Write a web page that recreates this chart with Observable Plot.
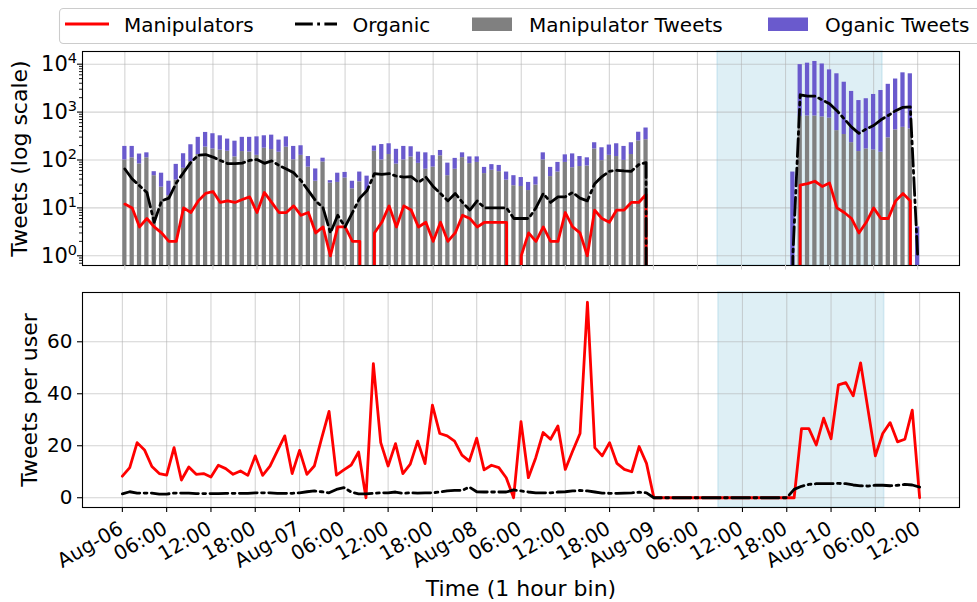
<!DOCTYPE html>
<html><head><meta charset="utf-8">
<script src="https://cdn.jsdelivr.net/npm/d3@7"></script>
<script src="https://cdn.jsdelivr.net/npm/@observablehq/plot@0.6"></script>
<style>
body{margin:0;background:#fff;font-family:"DejaVu Sans",sans-serif;}
#wrap{position:relative;width:977px;height:602px;overflow:hidden;background:#fff;}
.panel{position:absolute;left:0;}
#legend{position:absolute;left:0;top:0;}
</style></head>
<body><div id="wrap">
<div id="top" class="panel" style="top:0px"></div>
<div id="bottom" class="panel" style="top:280px"></div>
<svg id="legend" width="977" height="50" font-family="DejaVu Sans" font-size="20">
  <rect x="59.5" y="8.5" width="940" height="35" rx="4" fill="white" fill-opacity="0.8" stroke="#cccccc" stroke-width="1.1"></rect>
  <line x1="65" x2="109" y1="24" y2="24" stroke="red" stroke-width="2.8"></line>
  <text x="124" y="31.5">Manipulators</text>
  <line x1="295" x2="337" y1="24" y2="24" stroke="black" stroke-width="2.8" stroke-dasharray="17.8,4.4,2.8,4.4"></line>
  <text x="352.5" y="31.5">Organic</text>
  <rect x="472" y="17.5" width="40" height="13.5" fill="#808080"></rect>
  <text x="529" y="31.5">Manipulator Tweets</text>
  <rect x="768" y="17.5" width="40" height="13.5" fill="#6a5acd"></rect>
  <text x="825" y="31.5">Oganic Tweets</text>
</svg>
</div>
<script>
// hourly bins starting Aug-06 00:00 (index = hours since start)
const hours = d3.range(0, 109);
const tickHours = d3.range(0, 109, 6);
const tickLabels = ["Aug-06","06:00","12:00","18:00","Aug-07","06:00","12:00","18:00",
  "Aug-08","06:00","12:00","18:00","Aug-09","06:00","12:00","18:00","Aug-10","06:00","12:00"];
const logTicks = [1, 10, 100, 1000, 10000];
const perUserTicks = [0, 20, 40, 60];
const highlight = [{start: 80.75, end: 103.2}];

// number of manipulator users per hour (top, red)
const manipUsers = [
  12,10,4,6,4,3,2,2,10,8,
  14,20,22,13,14,13,15,17,8,21,
  13,8,8,11,7,8,3,4,1,4,
  4,2,2,0,3,5,11,4,11,9,
  4,5,2,5,2,3,7,6,4,5,
  5,5,5,0,1,3,2,4,2,2,
  8,4,3,1,9,6,5,9,9,13,
  13,19,0,0,0,0,0,0,0,0,
  0,0,0,0,0,0,0,0,0,0,
  0,0,30,32,36,28,33,10,8,6,
  3,5,10,6,6,14,20,14,0];
// number of organic users per hour (top, black dash-dot)
const organicUsers = [
  65,40,29,21,5,14,16,33,55,90,
  125,130,115,98,84,84,86,98,102,85,
  96,77,65,54,37,23,14,10,3,7,
  4,8,16,23,52,50,52,46,44,45,
  34,44,28,20,14,20,13,9,14,10,
  10,10,10,6,6,6,10,20,13,17,
  17,21,16,14,32,45,58,61,59,58,
  80,88,0,0,0,0,0,0,0,0,
  0,0,0,0,0,0,0,0,0,0,
  0,1,2300,2150,2150,1800,1490,1070,720,485,
  360,445,525,690,850,1070,1260,1290,1];
// manipulator tweets per hour (grey bars)
const manipTweets = [
  100,111,83,111,47,27,18,38,67,92,
  130,186,170,160,152,116,150,146,125,176,
  165,145,185,101,125,71,36,91,33,34,
  42,25,35,23,152,100,130,82,100,115,
  85,64,71,122,47,64,112,84,89,52,
  61,57,38,29,28,23,30,100,45,56,
  89,69,73,75,170,97,125,118,98,130,
  250,265,0,0,0,0,0,0,0,0,
  0,0,0,0,0,0,0,0,0,0,
  0,0,810,830,830,790,750,410,340,230,
  150,170,162,145,290,425,480,445,0];
// organic tweets per hour (purple bars, stacked on grey)
const organicTweets = [
  92,81,50,30,10,26,18,43,68,116,
  167,190,183,160,121,131,147,151,179,144,
  165,115,119,91,73,47,29,18,4,19,
  13,11,21,23,43,110,88,85,92,74,
  61,77,52,36,39,44,29,32,27,18,
  19,20,18,18,15,11,14,41,25,33,
  39,65,45,36,59,83,80,100,94,99,
  130,200,0,0,0,0,0,0,0,0,
  0,0,0,0,0,0,0,0,0,0,
  0,56,8990,9670,10570,9310,6850,5890,3860,2470,
  1590,1730,2170,2675,3510,4475,6120,5855,4];
// tweets per user (bottom)
const manipPerUser = [
  8.3,11.6,21.2,18.4,12,9.3,8.7,19.3,6.8,11.8,
  9,9.3,8,12.5,11.2,9,10.3,8.6,16.1,8.6,
  12.2,18,23.8,9.3,18.2,9,12.2,22.9,33.2,8.7,
  10.7,12.6,17.6,0,51.6,21.2,12.2,20.8,9.3,12.9,
  21.8,13.1,35.6,24.7,23.8,21.8,16.4,14.1,22.9,10.7,
  12.5,11.6,7.7,0,29.3,7.7,15.4,25.1,22.5,27.6,
  10.9,18,24.7,75.2,19.3,16.1,21.2,13.2,10.9,10,
  19.7,13.2,0,0,0,0,0,0,0,0,
  0,0,0,0,0,0,0,0,0,0,
  0,0,26.6,26.6,20.3,30.6,22.7,43.4,44.3,39.2,
  51.9,34,16.1,24.7,28.9,21.5,22.5,33.7,0];
const organicPerUser = [
  1.5,2.3,1.8,1.8,1.8,1.4,1.4,1.8,1.8,1.8,
  1.6,1.6,1.6,1.6,1.7,1.7,1.7,1.7,1.9,1.9,
  1.9,1.7,1.7,1.7,1.9,2.3,2.6,2.3,1.9,3.2,
  3.9,2.2,1.5,1.5,1.7,1.9,1.9,2.2,1.7,1.9,
  1.8,1.9,1.9,2.2,2.6,2.8,2.8,4.1,2.3,2.2,
  2.2,2.2,2.2,3.0,2.6,2.2,1.9,1.9,1.9,2.2,
  2.3,2.6,2.8,2.6,2.2,1.8,1.7,1.7,1.8,1.9,
  2.1,1.9,0,0,0,0,0,0,0,0,
  0,0,0,0,0,0,0,0,0,0,
  0,3.2,4.4,5.1,5.4,5.4,5.4,5.5,5.4,4.9,
  4.6,4.5,4.8,4.8,4.6,4.8,5.1,4.9,4.1];

const FLOOR = 1e-100;       // stand-in for log(0): drawn far below the frame, then clipped
const BAR_BASE = 1e-3;
const HALF = 0.29;
const RED = "#ff0000", GREY = "#808080", PURPLE = "#6a5acd";
const DASHDOT = "17.8,4.4,2.8,4.4";
const gridStyle = {stroke: "#b0b0b0", strokeOpacity: 0.55, strokeWidth: 1.1};
const shade = {x1: "start", x2: "end", fill: "#add8e6", fillOpacity: 0.4, stroke: "#add8e6", strokeOpacity: 0.45, strokeWidth: 1.6};
const minorTicks = [];
for (let k = -1; k <= 3; k++) for (let m = 2; m <= 9; m++) {
  const v = m * Math.pow(10, k);
  if (v > 0.627 && v < 18400) minorTicks.push(v);
}
const baseStyle = {fontFamily: "DejaVu Sans", fontSize: "20px", background: "transparent", color: "black"};

const topPlot = Plot.plot({
  width: 977, height: 280,
  marginTop: 51, marginBottom: 15, marginLeft: 82, marginRight: 18,
  style: baseStyle,
  x: {type: "linear", domain: [-5.77, 113.7]},
  y: {type: "log", domain: [0.627, 18400]},
  marks: [
    Plot.rect(highlight, shade),
    Plot.gridX(tickHours, gridStyle),
    Plot.gridY(logTicks, gridStyle),
    Plot.rect(hours.filter(i => manipTweets[i] > 0), {
      x1: i => i - HALF, x2: i => i + HALF, y1: BAR_BASE, y2: i => manipTweets[i], fill: GREY, clip: true}),
    Plot.rect(hours.filter(i => organicTweets[i] > 0), {
      x1: i => i - HALF, x2: i => i + HALF,
      y1: i => manipTweets[i] > 0 ? manipTweets[i] : BAR_BASE,
      y2: i => manipTweets[i] + organicTweets[i], fill: PURPLE, clip: true}),
    Plot.line(hours, {x: i => i, y: i => manipUsers[i] > 0 ? manipUsers[i] : FLOOR,
      stroke: RED, strokeWidth: 2.8, strokeLinejoin: "round", clip: true}),
    Plot.line(hours, {x: i => i, y: i => organicUsers[i] > 0 ? organicUsers[i] : FLOOR,
      stroke: "black", strokeWidth: 2.8, strokeDasharray: DASHDOT, strokeLinejoin: "round", clip: true}),
    Plot.frame({stroke: "black", strokeWidth: 1.1}),
    Plot.axisY(minorTicks, {tickSize: 3, tickFormat: () => "", label: null, strokeWidth: 0.9}),
    Plot.axisY(logTicks, {tickSize: 5, tickPadding: 0.5, fontSize: 21, label: null, strokeWidth: 1.1,
      tickFormat: v => "10^" + Math.round(Math.log10(v)), ariaLabel: "log-tick"}),
    Plot.axisX(tickHours, {tickSize: 4.5, stroke: "#d0d0d0", tickFormat: () => "", label: null}),
    Plot.text(["Tweets (log scale)"], {frameAnchor: "left", dx: -55.5, rotate: -90,
      textAnchor: "middle", lineAnchor: "bottom", fontSize: 22})
  ]
});

// render exponents of the log tick labels as real superscripts
topPlot.querySelectorAll("text").forEach(t => {
  const s = t.textContent;
  const m = /^10\^(\d+)$/.exec(s);
  if (!m) return;
  while (t.firstChild) t.removeChild(t.firstChild);
  const ns = "http://www.w3.org/2000/svg";
  const base = document.createElementNS(ns, "tspan");
  base.textContent = "10";
  const ex = document.createElementNS(ns, "tspan");
  ex.textContent = m[1];
  ex.setAttribute("font-size", "14.5");
  ex.setAttribute("dy", "-8");
  t.appendChild(base);
  t.appendChild(ex);
});

const bottomPlot = Plot.plot({
  width: 977, height: 322,
  marginTop: 12, marginBottom: 95, marginLeft: 82, marginRight: 18,
  style: baseStyle,
  x: {type: "linear", domain: [-5.4, 113.4]},
  y: {type: "linear", domain: [-3.76, 78.96]},
  marks: [
    Plot.rect(highlight, shade),
    Plot.gridX(tickHours, gridStyle),
    Plot.gridY(perUserTicks, gridStyle),
    Plot.line(hours, {x: i => i, y: i => manipPerUser[i], stroke: RED, strokeWidth: 2.8, strokeLinejoin: "round"}),
    Plot.line(hours, {x: i => i, y: i => organicPerUser[i], stroke: "black", strokeWidth: 2.8,
      strokeDasharray: DASHDOT, strokeLinejoin: "round"}),
    Plot.frame({stroke: "black", strokeWidth: 1.1}),
    Plot.axisY(perUserTicks, {tickSize: 5, tickPadding: 5, fontSize: 20, label: null, strokeWidth: 1.1}),
    Plot.axisX(tickHours, {tickSize: 5, tickFormat: () => "", label: null, strokeWidth: 1.1}),
    Plot.text(tickHours, {x: d => d, text: (d, i) => tickLabels[i], frameAnchor: "bottom",
      dx: -5, dy: 12.6, rotate: -30, textAnchor: "end", lineAnchor: "top", fontSize: 20}),
    Plot.text(["Time (1 hour bin)"], {frameAnchor: "bottom", dy: 88.5, lineAnchor: "bottom", fontSize: 22}),
    Plot.text(["Tweets per user"], {frameAnchor: "left", dx: -46, rotate: -90,
      textAnchor: "middle", lineAnchor: "bottom", fontSize: 22})
  ]
});

document.getElementById("top").append(topPlot);
document.getElementById("bottom").append(bottomPlot);
</script>
</body></html>
